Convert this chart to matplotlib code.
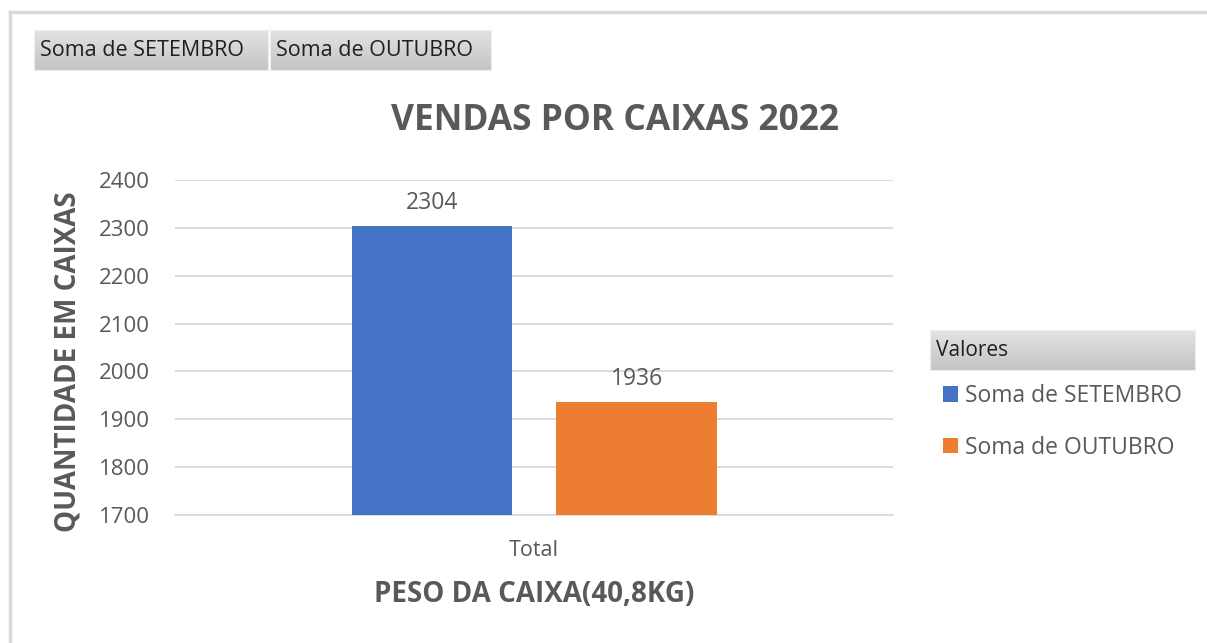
import numpy as np
import matplotlib
matplotlib.use('Agg')
import matplotlib.pyplot as plt
from matplotlib.lines import Line2D

# data
categoria = ['Total']
series = ['Soma de SETEMBRO', 'Soma de OUTUBRO']
valores = [2304, 1936]
cores = ['#4472C4', '#ED7D31']
y_ticks = [1700, 1800, 1900, 2000, 2100, 2200, 2300, 2400]

plt.rcParams['font.family'] = ['Open Sans', 'DejaVu Sans']
texto = '#595959'

W, H = 1207, 643
fig = plt.figure(figsize=(W / 100, H / 100), dpi=100)

def fx(px):
    return px / W

def fy(py):
    return 1 - py / H

# outer frame of the pivot chart
fig.add_artist(Line2D([fx(10), 1], [fy(12), fy(12)], color='#d9d9d9', lw=2.5))
fig.add_artist(Line2D([fx(10), fx(10)], [fy(12), 0], color='#d9d9d9', lw=2.5))

# gradient buttons
grad = np.linspace(0, 1, 50).reshape(-1, 1)
cmap_botao = matplotlib.colors.LinearSegmentedColormap.from_list('g', ['#e3e3e3', '#c4c4c4'])

def botao(x0, y0, x1, y1, label, size=15.5, pad=6):
    bx = fig.add_axes([fx(x0), fy(y1), fx(x1 - x0), (y1 - y0) / H])
    bx.imshow(grad, aspect='auto', cmap=cmap_botao, extent=[0, 1, 0, 1])
    bx.set_xticks([])
    bx.set_yticks([])
    for s in bx.spines.values():
        s.set_color('#eeeeee')
        s.set_linewidth(0.8)
    bx.text(pad / (x1 - x0), 0.5, label, ha='left', va='center', fontsize=size,
            color='#1f1f1f')

botao(34, 30, 268, 70, series[0])
botao(270, 30, 491, 70, series[1])

# main axes
ax = fig.add_axes([fx(175), fy(515), fx(893 - 175), (515 - 180) / H])
x = np.arange(len(categoria))
largura = 0.224
desloc = [-0.142, 0.143]
for i in range(len(series)):
    b = ax.bar(x + desloc[i], [valores[i]], largura, color=cores[i], label=series[i], zorder=3)
    ax.bar_label(b, labels=[str(valores[i])], padding=8, fontsize=16.5, color=texto)

ax.set_xlim(-0.5, 0.5)
ax.set_ylim(1700, 2400)
ax.set_yticks(y_ticks)
ax.set_yticklabels([str(t) for t in y_ticks], fontsize=16, color=texto)
ax.set_xticks(x)
ax.set_xticklabels(categoria, fontsize=15.5, color=texto)
ax.tick_params(axis='both', length=0)
ax.tick_params(axis='y', pad=18)
ax.tick_params(axis='x', pad=18)
ax.grid(axis='y', color='#d9d9d9', lw=1.3, zorder=0)
for s in ['top', 'right', 'left']:
    ax.spines[s].set_visible(False)
ax.spines['bottom'].set_color('#d9d9d9')
ax.spines['bottom'].set_linewidth(1.3)

fig.text(fx(615), fy(121), 'VENDAS POR CAIXAS 2022', fontsize=25.5, fontweight='bold',
         color=texto, ha='center', va='center')
fig.text(fx(68), fy(362), 'QUANTIDADE EM CAIXAS', fontsize=20, fontweight='bold', color=texto,
         rotation=90, ha='center', va='center')
ax.set_xlabel('PESO DA CAIXA(40,8KG)', fontsize=20, fontweight='bold', color=texto, labelpad=14)

# legend with header
botao(930, 330, 1195, 370, 'Valores', size=15, pad=6)
ax.legend(loc='upper left', bbox_to_anchor=(fx(943), fy(384)), bbox_transform=fig.transFigure,
          frameon=False, fontsize=16.5, handlelength=0.65, handleheight=0.65, handletextpad=0.3,
          labelspacing=1.2, labelcolor=texto, borderaxespad=0, borderpad=0)

fig.savefig('out.png', dpi=100)
